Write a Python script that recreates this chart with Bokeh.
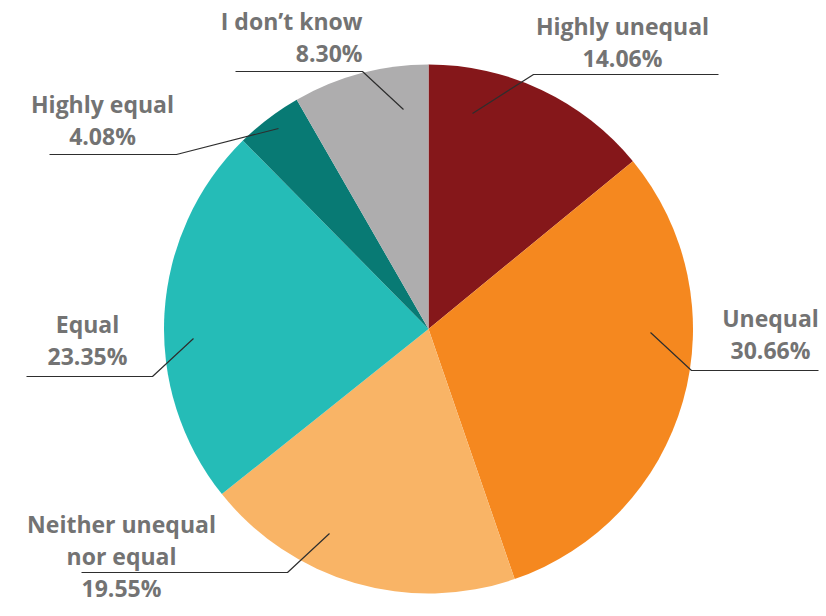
import math
from bokeh.plotting import figure
from bokeh.models import Range1d, ColumnDataSource
from bokeh.core.properties import value
from bokeh.embed import file_html
from bokeh.resources import INLINE

# ---- data ----
categories = ["Highly unequal", "Unequal", "Neither unequal\nnor equal", "Equal", "Highly equal", "I don\u2019t know"]
shares = [14.06, 30.66, 19.55, 23.35, 4.08, 8.30]
colors = ["#85171A", "#F5881F", "#F9B466", "#25BCB7", "#087A74", "#AEADAE"]

# ---- layout (picture pixel coordinates) ----
W, H = 822, 610
def dx(sx):
    return sx
def dy(sy):
    return H - sy

center_px = (428, 328.5)
radius_px = 264.5

# label anchors: (x, first baseline y, align)
label_pos = [
    (622, 33, "center"),
    (770, 325, "center"),
    (121, 531, "center"),
    (87, 331, "center"),
    (102, 111, "center"),
    (362, 28, "right"),
]
text_shift = -8
line_step = 32
# leader lines: start inside slice, elbow, end
leaders = [
    [(472, 113), (533, 74), (718, 74)],
    [(650, 332), (691, 370), (818, 370)],
    [(329, 533), (287, 572), (81, 572)],
    [(193, 338), (152, 376), (26, 376)],
    [(278, 128), (176, 154), (49, 154)],
    [(403, 109), (362, 71), (235, 71)],
]

p = figure(width=W, height=H, output_backend="svg", toolbar_location=None,
           x_axis_location=None, y_axis_location=None, min_border=0,
           x_range=Range1d(0, W), y_range=Range1d(0, H))
p.outline_line_color = None
p.grid.visible = False
p.background_fill_color = "white"
p.border_fill_color = "white"

# wedges from data
total = sum(shares)
starts, ends = [], []
a = math.pi / 2
for s in shares:
    b = a - 2 * math.pi * s / total
    starts.append(a)
    ends.append(b)
    a = b
src = ColumnDataSource(dict(start=starts, end=ends, color=colors, cat=categories))
p.wedge(x=dx(center_px[0]), y=dy(center_px[1]), radius=radius_px,
        start_angle="start", end_angle="end", direction="clock",
        fill_color="color", line_color=None, source=src)

# leader lines
xs = [[dx(pt[0]) for pt in L] for L in leaders]
ys = [[dy(pt[1]) for pt in L] for L in leaders]
p.multi_line(xs=xs, ys=ys, line_color="#2E2E2E", line_width=1.2)

# labels
for cat, share, (lx, ly, al) in zip(categories, shares, label_pos):
    lines = cat.split("\n") + [f"{share:.2f}%"]
    for i, t in enumerate(lines):
        p.text(x=[dx(lx)], y=[dy(ly + text_shift + i * line_step)], text=[t],
               text_font=value("Open Sans"), text_font_style="bold",
               text_font_size="23px", text_color="#737373",
               text_align=al, text_baseline="alphabetic")

open("out.html", "w").write(file_html(p, INLINE))
